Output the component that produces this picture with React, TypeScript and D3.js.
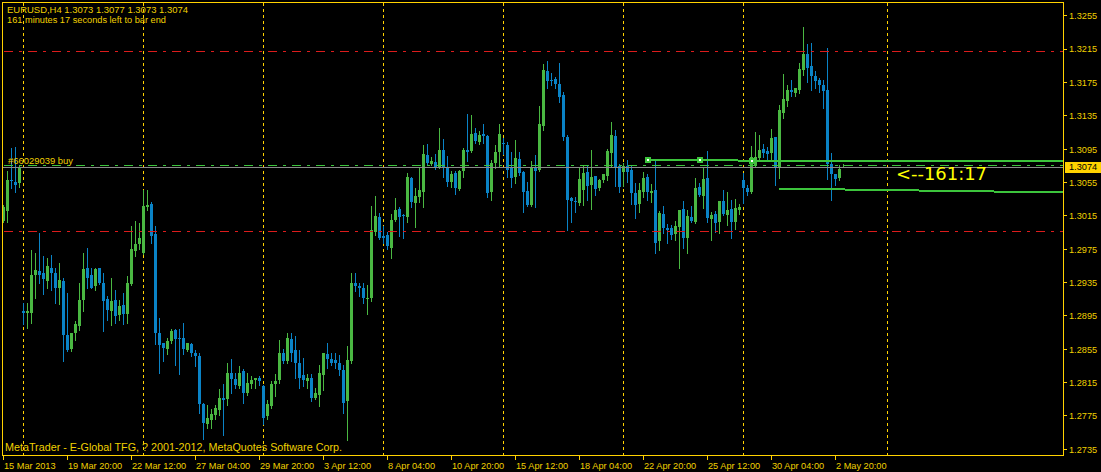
import React from "react";
import * as d3 from "d3";

const W = 1101;
const H = 472;

// ---- EURUSD H4 candles (bar index 0 = 15 Mar 2013 00:00) ----
const opens = [
  1.3009, 1.3021, 1.3058, 1.3055, 1.3054, 1.2901, 1.2899, 1.2898, 1.2944, 1.2949,
  1.2946, 1.2937, 1.2953, 1.2947, 1.2928, 1.2937, 1.2872, 1.2855, 1.2874, 1.2883,
  1.2914, 1.2952, 1.2944, 1.2931, 1.2952, 1.2934, 1.2915, 1.2901, 1.2914, 1.2896,
  1.2908, 1.2897, 1.2933, 1.2973, 1.2981, 1.2970, 1.3025, 1.3029, 1.2993, 1.2874,
  1.2862, 1.2855, 1.2865, 1.2878, 1.2869, 1.2869, 1.2854, 1.2861, 1.2851, 1.2847,
  1.2789, 1.2765, 1.2770, 1.2776, 1.2782, 1.2796, 1.2795, 1.2826, 1.2819, 1.2811,
  1.2829, 1.2802, 1.2813, 1.2818, 1.2820, 1.2811, 1.2775, 1.2787, 1.2813, 1.2818,
  1.2850, 1.2841, 1.2867, 1.2854, 1.2839, 1.2824, 1.2817, 1.2820, 1.2796, 1.2800,
  1.2824, 1.2849, 1.2843, 1.2842, 1.2839, 1.2830, 1.2793, 1.2841, 1.2935, 1.2931,
  1.2929, 1.2915, 1.2917, 1.2995, 1.3013, 1.2991, 1.2992, 1.2977, 1.3010, 1.3023,
  1.3016, 1.3013, 1.3060, 1.3030, 1.3037, 1.3043, 1.3088, 1.3077, 1.3079, 1.3073,
  1.3094, 1.3073, 1.3055, 1.3066, 1.3047, 1.3069, 1.3094, 1.3093, 1.3114, 1.3103,
  1.3113, 1.3111, 1.3043, 1.3078, 1.3091, 1.3102, 1.3100, 1.3073, 1.3061, 1.3083,
  1.3067, 1.3045, 1.3028, 1.3073, 1.3070, 1.3123, 1.3189, 1.3178, 1.3179, 1.3173,
  1.3160, 1.3109, 1.3036, 1.3033, 1.3030, 1.3046, 1.3067, 1.3052, 1.3063, 1.3048,
  1.3058, 1.3063, 1.3090, 1.3111, 1.3075, 1.3067, 1.3075, 1.3070, 1.3042, 1.3029,
  1.3043, 1.3061, 1.3042, 1.3046, 1.2985, 1.3017, 1.3000, 1.3000, 1.2993, 1.3001,
  1.3023, 1.2989, 1.3013, 1.3007, 1.3049, 1.3039, 1.3060, 1.3011, 1.3017, 1.3007,
  1.3033, 1.3016, 1.3023, 1.3007, 1.3022, 1.3058, 1.3048, 1.3043, 1.3076, 1.3084,
  1.3095, 1.3093, 1.3090, 1.3109, 1.3073, 1.3138, 1.3153, 1.3166, 1.3162, 1.3166,
  1.3190, 1.3209, 1.3195, 1.3183, 1.3178, 1.3172, 1.3166, 1.3077, 1.3065, 1.3060,
  1.3073,
];
const highs = [
  1.3028, 1.3069, 1.3096, 1.3097, 1.3076, 1.2911, 1.2910, 1.2974, 1.2971, 1.2994,
  1.2967, 1.2964, 1.2968, 1.2953, 1.2959, 1.2940, 1.2922, 1.2875, 1.2889, 1.2934,
  1.2971, 1.2976, 1.2953, 1.2952, 1.2953, 1.2947, 1.2919, 1.2940, 1.2926, 1.2914,
  1.2922, 1.2943, 1.3003, 1.3009, 1.3006, 1.3046, 1.3046, 1.3031, 1.3003, 1.2892,
  1.2863, 1.2869, 1.2879, 1.2879, 1.2879, 1.2887, 1.2863, 1.2862, 1.2854, 1.2850,
  1.2790, 1.2788, 1.2783, 1.2788, 1.2807, 1.2813, 1.2838, 1.2843, 1.2826, 1.2835,
  1.2831, 1.2826, 1.2823, 1.2820, 1.2823, 1.2812, 1.2794, 1.2817, 1.2825, 1.2866,
  1.2855, 1.2874, 1.2875, 1.2871, 1.2854, 1.2844, 1.2825, 1.2825, 1.2808, 1.2836,
  1.2851, 1.2862, 1.2850, 1.2851, 1.2848, 1.2836, 1.2859, 1.2947, 1.2947, 1.2935,
  1.2935, 1.2932, 1.3027, 1.3039, 1.3018, 1.3003, 1.2995, 1.3017, 1.3036, 1.3025,
  1.3017, 1.3066, 1.3061, 1.3048, 1.3072, 1.3100, 1.3101, 1.3085, 1.3089, 1.3120,
  1.3107, 1.3087, 1.3069, 1.3069, 1.3070, 1.3096, 1.3137, 1.3136, 1.3120, 1.3117,
  1.3125, 1.3112, 1.3082, 1.3100, 1.3125, 1.3108, 1.3103, 1.3091, 1.3106, 1.3091,
  1.3069, 1.3055, 1.3081, 1.3088, 1.3147, 1.3197, 1.3201, 1.3186, 1.3181, 1.3198,
  1.3163, 1.3112, 1.3037, 1.3037, 1.3073, 1.3076, 1.3075, 1.3094, 1.3063, 1.3059,
  1.3065, 1.3095, 1.3127, 1.3118, 1.3077, 1.3078, 1.3082, 1.3075, 1.3054, 1.3054,
  1.3067, 1.3065, 1.3053, 1.3082, 1.3021, 1.3027, 1.3005, 1.3004, 1.3009, 1.3022,
  1.3033, 1.3022, 1.3027, 1.3060, 1.3054, 1.3073, 1.3093, 1.3019, 1.3021, 1.3033,
  1.3046, 1.3043, 1.3034, 1.3035, 1.3029, 1.3066, 1.3052, 1.3099, 1.3115, 1.3112,
  1.3101, 1.3097, 1.3119, 1.3109, 1.3148, 1.3185, 1.3172, 1.3178, 1.3168, 1.3198,
  1.3241, 1.3221, 1.3222, 1.3189, 1.3180, 1.3178, 1.3216, 1.3090, 1.3065, 1.3076,
  1.3077,
];
const lows = [
  1.3007, 1.3007, 1.3048, 1.3043, 1.3049, 1.2885, 1.2880, 1.2887, 1.2917, 1.2935,
  1.2921, 1.2928, 1.2926, 1.2911, 1.2909, 1.2841, 1.2853, 1.2853, 1.2866, 1.2878,
  1.2901, 1.2928, 1.2928, 1.2926, 1.2933, 1.2877, 1.2890, 1.2884, 1.2886, 1.2890,
  1.2885, 1.2887, 1.2932, 1.2967, 1.2975, 1.2969, 1.3022, 1.2982, 1.2861, 1.2826,
  1.2841, 1.2849, 1.2862, 1.2836, 1.2825, 1.2849, 1.2853, 1.2847, 1.2835, 1.2778,
  1.2747, 1.2760, 1.2760, 1.2771, 1.2776, 1.2752, 1.2788, 1.2803, 1.2809, 1.2808,
  1.2790, 1.2800, 1.2808, 1.2808, 1.2812, 1.2765, 1.2771, 1.2785, 1.2799, 1.2814,
  1.2838, 1.2839, 1.2841, 1.2821, 1.2808, 1.2811, 1.2809, 1.2793, 1.2795, 1.2787,
  1.2806, 1.2832, 1.2836, 1.2832, 1.2824, 1.2779, 1.2746, 1.2839, 1.2925, 1.2919,
  1.2911, 1.2897, 1.2913, 1.2992, 1.2987, 1.2983, 1.2975, 1.2965, 1.3009, 1.2991,
  1.2988, 1.3007, 1.3025, 1.3001, 1.3031, 1.3025, 1.3076, 1.3076, 1.3071, 1.3072,
  1.3061, 1.3051, 1.3049, 1.3041, 1.3046, 1.3061, 1.3081, 1.3091, 1.3102, 1.3101,
  1.3102, 1.3037, 1.3034, 1.3072, 1.3073, 1.3089, 1.3061, 1.3049, 1.3054, 1.3064,
  1.3019, 1.3027, 1.3027, 1.3025, 1.3069, 1.3118, 1.3168, 1.3172, 1.3168, 1.3151,
  1.3106, 1.2998, 1.3007, 1.3019, 1.3028, 1.3028, 1.3034, 1.3023, 1.3040, 1.3046,
  1.3055, 1.3058, 1.3075, 1.3051, 1.3043, 1.3051, 1.3055, 1.3029, 1.3012, 1.3019,
  1.3037, 1.3034, 1.3031, 1.2970, 1.2974, 1.2994, 1.2983, 1.2987, 1.2986, 1.2952,
  1.2976, 1.2970, 1.3007, 1.3006, 1.3039, 1.3024, 1.3007, 1.2986, 1.2995, 1.2994,
  1.3016, 1.3004, 1.2988, 1.2999, 1.3017, 1.3030, 1.3040, 1.3042, 1.3073, 1.3082,
  1.3085, 1.3082, 1.3082, 1.3052, 1.3060, 1.3132, 1.3147, 1.3159, 1.3159, 1.3162,
  1.3184, 1.3175, 1.3166, 1.3168, 1.3163, 1.3144, 1.3059, 1.3034, 1.3052, 1.3058,
  1.3073,
];
const closes = [
  1.3025, 1.3058, 1.3057, 1.3052, 1.3073, 1.2899, 1.2901, 1.2944, 1.2950, 1.2944,
  1.2939, 1.2955, 1.2946, 1.2929, 1.2938, 1.2872, 1.2854, 1.2874, 1.2885, 1.2914,
  1.2951, 1.2941, 1.2929, 1.2951, 1.2934, 1.2913, 1.2902, 1.2913, 1.2895, 1.2907,
  1.2897, 1.2935, 1.2975, 1.2981, 1.2988, 1.3027, 1.3028, 1.2991, 1.2874, 1.2860,
  1.2856, 1.2865, 1.2877, 1.2867, 1.2867, 1.2855, 1.2862, 1.2851, 1.2847, 1.2789,
  1.2766, 1.2772, 1.2777, 1.2784, 1.2797, 1.2794, 1.2826, 1.2819, 1.2812, 1.2826,
  1.2803, 1.2815, 1.2818, 1.2820, 1.2817, 1.2773, 1.2789, 1.2813, 1.2817, 1.2851,
  1.2841, 1.2868, 1.2851, 1.2839, 1.2821, 1.2818, 1.2820, 1.2797, 1.2802, 1.2826,
  1.2850, 1.2843, 1.2838, 1.2839, 1.2830, 1.2791, 1.2842, 1.2935, 1.2931, 1.2928,
  1.2916, 1.2917, 1.2998, 1.3015, 1.2988, 1.2989, 1.2979, 1.3010, 1.3022, 1.3013,
  1.3015, 1.3061, 1.3031, 1.3039, 1.3046, 1.3089, 1.3078, 1.3081, 1.3073, 1.3094,
  1.3073, 1.3055, 1.3065, 1.3048, 1.3069, 1.3094, 1.3091, 1.3113, 1.3105, 1.3112,
  1.3111, 1.3042, 1.3078, 1.3091, 1.3113, 1.3101, 1.3070, 1.3060, 1.3084, 1.3066,
  1.3043, 1.3028, 1.3073, 1.3069, 1.3125, 1.3190, 1.3177, 1.3177, 1.3173, 1.3157,
  1.3109, 1.3034, 1.3033, 1.3031, 1.3059, 1.3066, 1.3051, 1.3061, 1.3047, 1.3058,
  1.3065, 1.3093, 1.3112, 1.3072, 1.3049, 1.3075, 1.3067, 1.3042, 1.3028, 1.3046,
  1.3060, 1.3043, 1.3045, 1.2983, 1.3018, 1.3000, 1.2998, 1.2992, 1.3003, 1.3022,
  1.2988, 1.3015, 1.3009, 1.3048, 1.3040, 1.3059, 1.3012, 1.3016, 1.3006, 1.3033,
  1.3017, 1.3022, 1.3007, 1.3024, 1.3025, 1.3048, 1.3043, 1.3085, 1.3085, 1.3094,
  1.3090, 1.3089, 1.3108, 1.3073, 1.3142, 1.3155, 1.3166, 1.3163, 1.3168, 1.3191,
  1.3209, 1.3192, 1.3183, 1.3177, 1.3172, 1.3165, 1.3077, 1.3065, 1.3059, 1.3071,
  1.3074,
];

// ---- axes ----
const timeLabels = [
  "15 Mar 2013", "19 Mar 20:00", "22 Mar 12:00", "27 Mar 04:00", "29 Mar 20:00",
  "3 Apr 12:00", "8 Apr 04:00", "10 Apr 20:00", "15 Apr 12:00", "18 Apr 04:00",
  "22 Apr 20:00", "25 Apr 12:00", "30 Apr 04:00", "2 May 20:00",
];
const timeLabelStep = 16; // bars between time labels
const priceTicks = [
  1.3255, 1.3215, 1.3175, 1.3135, 1.3095, 1.3055, 1.3015, 1.2975, 1.2935,
  1.2895, 1.2855, 1.2815, 1.2775, 1.2735,
];
const gridBars = [5, 35, 65, 95, 125, 155, 185, 221];

// ---- objects ----
const redLevels = [1.3212, 1.2996];
const orderPrice = 1.30755;
const orderLabel = "#66029039 buy";
const bidPrice = 1.3074;
const trendA = { b1: 161, p1: 1.30816, b2: 187, p2: 1.30813 };
const trendB = { b1: 194, p1: 1.30476, b2: 208, p2: 1.30467 };
const headerLine1 = "EURUSD,H4  1.3073 1.3077 1.3073 1.3074";
const headerLine2 = "161 minutes 17 seconds left to bar end";
const timerText = "<--161:17";
const copyright = "MetaTrader - E-Global TFG, ? 2001-2012, MetaQuotes Software Corp.";

// colours
const GOLD = "#FFD200";
const TXT = "#F0D000";
const BULL = "#4AB842";
const BEAR = "#0A83C6";
const LINE_GREEN = "#3CC43C";
const RED = "#DC1C1C";

const PLOT_L = 3;
const PLOT_R = 1063;
const PLOT_T = 3;
const PLOT_B = 455;

export default function App() {
  const x = d3.scaleLinear().domain([0, 1]).range([3.5, 7.5]);
  const y = d3.scaleLinear().domain([1.2735, 1.3255]).range([449.3, 15.7]);
  const fmt = d3.format(".4f");
  const snap = (v: number) => Math.floor(v) + 0.5;

  const candles = d3.range(opens.length).map((i) => {
    const o = opens[i], c = closes[i], h = highs[i], l = lows[i];
    const up = c >= o;
    const col = up ? BULL : BEAR;
    const cx = x(i);
    const t = Math.round(Math.min(y(o), y(c)));
    const b = Math.round(Math.max(y(o), y(c)));
    const yh = Math.round(y(h));
    const yl = Math.round(y(l));
    return (
      <g key={i} fill={col} stroke="none">
        <rect x={cx - 0.5} y={yh} width={1} height={Math.max(1, yl - yh + 1)} />
        <rect x={cx - 1.5} y={t} width={3} height={Math.max(1, b - t)} />
      </g>
    );
  });

  const endBar = x.invert(PLOT_R);
  const ray = (tl: { b1: number; p1: number; b2: number; p2: number }) => {
    const slope = (tl.p2 - tl.p1) / (tl.b2 - tl.b1);
    const pe = tl.p1 + slope * (endBar - tl.b1);
    return { x1: x(tl.b1), y1: y(tl.p1), x2: PLOT_R, y2: y(pe), slope };
  };
  const rA = ray(trendA);
  const rB = ray(trendB);
  const anchorBars = [trendA.b1, (trendA.b1 + trendA.b2) / 2, trendA.b2];

  const font = "'Liberation Sans', Arial, sans-serif";

  return (
    <svg
      width={W}
      height={H}
      viewBox={`0 0 ${W} ${H}`}
      style={{ position: "absolute", left: 0, top: 0, background: "#000" }}
    >
      <defs>
        <clipPath id="plot">
          <rect x={PLOT_L} y={PLOT_T} width={PLOT_R - PLOT_L} height={PLOT_B - PLOT_T} />
        </clipPath>
      </defs>
      <rect x={0} y={0} width={W} height={H} fill="#000" />

      <g shapeRendering="crispEdges" clipPath="url(#plot)">
        {/* vertical grid */}
        {gridBars.map((b) => (
          <line
            key={b}
            x1={x(b)}
            x2={x(b)}
            y1={PLOT_T}
            y2={PLOT_B}
            stroke={GOLD}
            strokeWidth={1}
            strokeDasharray="3,3"
          />
        ))}

        {/* candles */}
        {candles}

        {/* red horizontal levels */}
        {redLevels.map((p) => (
          <line
            key={p}
            x1={4}
            x2={PLOT_R}
            y1={snap(y(p))}
            y2={snap(y(p))}
            stroke={RED}
            strokeWidth={1}
            strokeDasharray="9,6,3,6"
          />
        ))}

        {/* bid line */}
        <line x1={PLOT_L} x2={PLOT_R} y1={snap(y(bidPrice)) + 1} y2={snap(y(bidPrice)) + 1} stroke="#8A8A8A" strokeWidth={1} />
        {/* order line */}
        <line
          x1={4}
          x2={PLOT_R}
          y1={snap(y(orderPrice))}
          y2={snap(y(orderPrice))}
          stroke={LINE_GREEN}
          strokeWidth={1}
          strokeDasharray="9,6,3,6"
        />

        {/* trend lines (rays) */}
        <line x1={rA.x1} y1={rA.y1} x2={rA.x2} y2={rA.y2} stroke={LINE_GREEN} strokeWidth={2} />
        <line x1={rB.x1} y1={rB.y1} x2={rB.x2} y2={rB.y2} stroke={LINE_GREEN} strokeWidth={2} />
        {anchorBars.map((b) => {
          const ax = Math.round(x(b));
          const ay = Math.round(y(trendA.p1 + rA.slope * (b - trendA.b1)));
          return (
            <g key={b}>
              <rect x={ax - 3} y={ay - 3} width={6} height={6} fill={LINE_GREEN} />
              <rect x={ax - 1} y={ay - 1} width={2} height={2} fill="#fff" />
            </g>
          );
        })}
      </g>

      {/* frame */}
      <rect
        x={2.5}
        y={2.5}
        width={PLOT_R - 2}
        height={PLOT_B - 2}
        fill="none"
        stroke={GOLD}
        strokeWidth={1}
        shapeRendering="crispEdges"
      />

      {/* price axis */}
      <g shapeRendering="crispEdges">
        {priceTicks.map((p) => (
          <line key={p} x1={PLOT_R + 0.5} x2={PLOT_R + 4} y1={snap(y(p))} y2={snap(y(p))} stroke={GOLD} />
        ))}
      </g>
      <g fontFamily={font} fontSize={9.2} fill={TXT}>
        {priceTicks.map((p) => (
          <text key={p} x={1069} y={y(p) + 3.4}>
            {fmt(p)}
          </text>
        ))}
      </g>
      {/* current price box */}
      <rect
        x={1065}
        y={Math.round(y(bidPrice)) - 5}
        width={36}
        height={11}
        fill={GOLD}
        shapeRendering="crispEdges"
      />
      <text x={1069} y={y(bidPrice) + 3.6} fontFamily={font} fontSize={9.2} fill="#000">
        {fmt(bidPrice)}
      </text>

      {/* time axis */}
      <g shapeRendering="crispEdges">
        {timeLabels.map((_, i) => (
          <line
            key={i}
            x1={snap(x(i * timeLabelStep))}
            x2={snap(x(i * timeLabelStep))}
            y1={PLOT_B}
            y2={PLOT_B + 5}
            stroke={GOLD}
          />
        ))}
      </g>
      <g fontFamily={font} fontSize={9.2} fill={TXT}>
        {timeLabels.map((t, i) => (
          <text key={t} x={x(i * timeLabelStep) + 0.5} y={469}>
            {t}
          </text>
        ))}
      </g>

      {/* texts */}
      <g fontFamily={font} fill={TXT}>
        <text x={7} y={13} fontSize={9.3} textLength={181} lengthAdjust="spacingAndGlyphs">
          {headerLine1}
        </text>
        <text x={7} y={23} fontSize={9.2} textLength={159} lengthAdjust="spacingAndGlyphs">
          {headerLine2}
        </text>
        <text x={8} y={164} fontSize={9.4} textLength={65} lengthAdjust="spacingAndGlyphs">
          {orderLabel}
        </text>
        <text x={5} y={451} fontSize={10.7} textLength={337} lengthAdjust="spacingAndGlyphs">
          {copyright}
        </text>
      </g>
      <text
        x={896}
        y={180}
        fontFamily="'DejaVu Sans', Verdana, sans-serif"
        fontSize={17.5}
        fill="#FFFF00"
        textLength={91}
        lengthAdjust="spacingAndGlyphs"
      >
        {timerText}
      </text>
    </svg>
  );
}
